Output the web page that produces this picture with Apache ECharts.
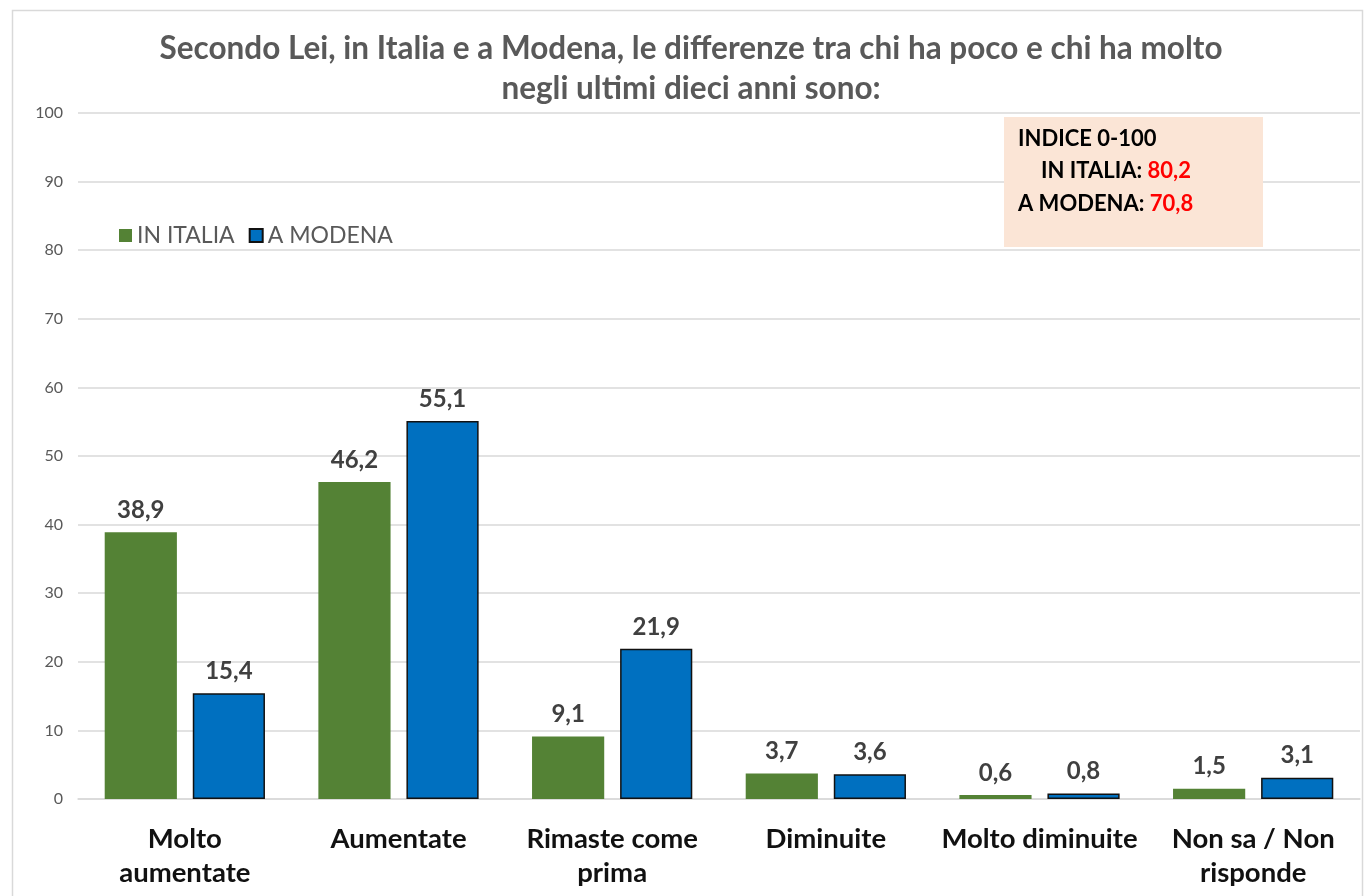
<!DOCTYPE html>
<html>
<head>
<meta charset="utf-8">
<script src="https://cdn.jsdelivr.net/npm/echarts@6/dist/echarts.min.js"></script>
<style>html,body{margin:0;padding:0;background:#fff}#c{width:1366px;height:896px}</style>
</head>
<body>
<div id="c"></div>
<script>
const categories = ["Molto\naumentate", "Aumentate", "Rimaste come\nprima", "Diminuite", "Molto diminuite", "Non sa / Non\nrisponde"];
const italia = [38.9, 46.2, 9.1, 3.7, 0.6, 1.5];
const modena = [15.4, 55.1, 21.9, 3.6, 0.8, 3.1];
const seriesNames = ["IN ITALIA", "A MODENA"];
const titleLines = ["Secondo Lei, in Italia e a Modena, le differenze tra chi ha poco e chi ha molto", "negli ultimi dieci anni sono:"];
const indexTitle = "INDICE 0-100";
const indexItalia = "80,2";
const indexModena = "70,8";

const FONT = "Lato, 'Open Sans', sans-serif";
const chart = echarts.init(document.getElementById('c'));
const fmt = p => String(p.value.toFixed(1)).replace('.', ',');
const valLabel = { show: true, position: 'top', distance: 10, formatter: fmt, fontSize: 24, fontWeight: 'bold', color: '#404040', fontFamily: FONT };
chart.setOption({
  animation: false,
  textStyle: { fontFamily: FONT },
  title: {
    text: titleLines.join('\n'),
    left: 686, top: 24, textAlign: 'center',
    textStyle: { fontSize: 31.5, fontWeight: 'bold', color: '#595959', lineHeight: 40, fontFamily: FONT }
  },
  legend: {
    left: 114, top: 219, itemWidth: 13, itemHeight: 13, itemGap: 14, icon: 'rect',
    textStyle: { fontSize: 23, color: '#595959', fontFamily: FONT },
    data: seriesNames
  },
  grid: { left: 78, right: 6, top: 113, bottom: 97 },
  xAxis: {
    type: 'category', data: categories,
    axisLine: { lineStyle: { color: '#d9d9d9', width: 1.5 } },
    axisTick: { show: false },
    axisLabel: { fontSize: 27.5, fontWeight: 'bold', color: '#111', lineHeight: 34, margin: 23, interval: 0, fontFamily: FONT }
  },
  yAxis: {
    type: 'value', min: 0, max: 100, interval: 10,
    axisLine: { show: false }, axisTick: { show: false },
    splitLine: { lineStyle: { color: '#d9d9d9', width: 1.5 } },
    axisLabel: { fontSize: 16, color: '#595959', margin: 15, fontFamily: FONT }
  },
  series: [
    {
      name: seriesNames[0], type: 'bar', data: italia,
      barGap: '22%', barCategoryGap: '25%',
      itemStyle: { color: '#548235' },
      label: valLabel
    },
    {
      name: seriesNames[1], type: 'bar', data: modena,
      itemStyle: { color: '#0070c0', borderColor: '#111', borderWidth: 1.5 },
      label: valLabel
    }
  ],
  graphic: [
    { type: 'rect', shape: { x: 12.5, y: 10.5, width: 1350, height: 900 }, style: { fill: 'none', stroke: '#d9d9d9', lineWidth: 1.5 }, silent: true, z: -1 },
    { type: 'rect', shape: { x: 1004, y: 117, width: 259, height: 130 }, style: { fill: '#fbe5d6' }, z: 10 },
    { type: 'text', left: 1018, top: 128, z: 11, style: { text: indexTitle, font: "bold 22px " + FONT, fill: '#000' } },
    { type: 'text', left: 1041, top: 160, z: 11, style: { text: '{b|IN ITALIA: }{r|' + indexItalia + '}', rich: { b: { font: "bold 22px " + FONT, fill: '#000' }, r: { font: "bold 22px " + FONT, fill: '#ff0000' } } } },
    { type: 'text', left: 1018, top: 193, z: 11, style: { text: '{b|A MODENA: }{r|' + indexModena + '}', rich: { b: { font: "bold 22px " + FONT, fill: '#000' }, r: { font: "bold 22px " + FONT, fill: '#ff0000' } } } }
  ]
});
</script>
</body>
</html>
